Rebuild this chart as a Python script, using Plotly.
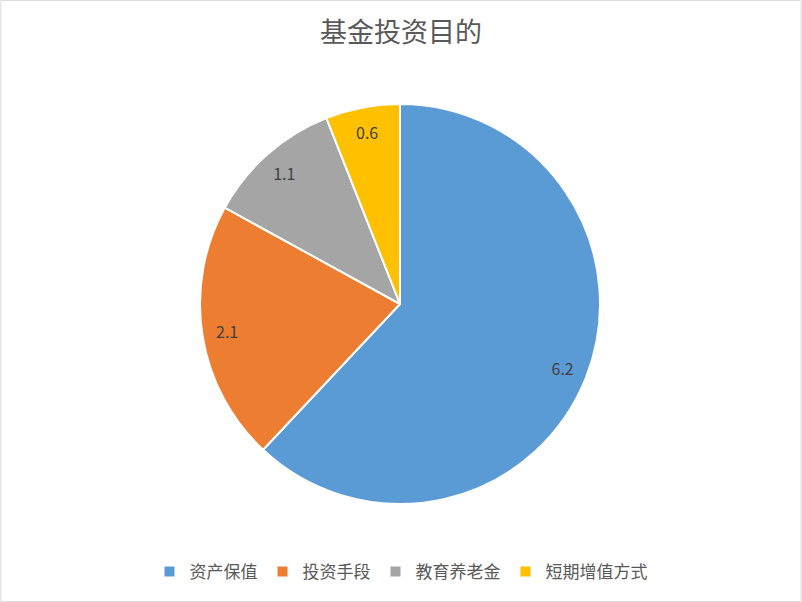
import plotly.graph_objects as go

categories = ["资产保值", "投资手段", "教育养老金", "短期增值方式"]
values = [6.2, 2.1, 1.1, 0.6]
colors = ["#5B9BD5", "#ED7D31", "#A5A5A5", "#FFC000"]

W, H = 802, 602
dom = dict(x=[200 / W, 600 / W], y=[1 - 504 / H, 1 - 104 / H])

fig = go.Figure()
fig.add_trace(go.Pie(
    labels=categories,
    values=values,
    sort=False,
    direction="clockwise",
    rotation=0,
    marker=dict(colors=colors, line=dict(color="white", width=2)),
    textinfo="none",
    domain=dom,
    hoverinfo="label+value",
))
# label layer: transparent ring so the values sit near the rim
fig.add_trace(go.Pie(
    labels=categories,
    values=values,
    sort=False,
    direction="clockwise",
    rotation=0,
    hole=0.75,
    marker=dict(colors=["rgba(0,0,0,0)"] * len(values), line=dict(width=0)),
    texttemplate="%{value}",
    textposition="inside",
    insidetextorientation="horizontal",
    textfont=dict(color="#404040", size=16, family="Noto Sans CJK SC"),
    domain=dom,
    showlegend=False,
    hoverinfo="skip",
))

fig.update_layout(
    width=W, height=H,
    margin=dict(l=0, r=0, t=0, b=0),
    paper_bgcolor="white",
    font=dict(family="Noto Sans CJK SC", color="#595959"),
    uniformtext=dict(minsize=16, mode="show"),
    title=dict(text="基金投资目的", x=0.5, xanchor="center", y=1 - 33 / H, yanchor="middle",
               font=dict(size=27, color="#595959")),
    showlegend=True,
    legend=dict(orientation="h", x=0.5, xanchor="center", y=1 - 572 / H, yanchor="middle",
                font=dict(size=17, color="#595959"), itemwidth=30, traceorder="normal"),
    shapes=[dict(type="rect", xref="paper", yref="paper", x0=0.001, y0=0.001, x1=0.999, y1=0.999,
                 line=dict(color="#D9D9D9", width=1))],
)

fig.write_html("out.html", config={"displayModeBar": False},
               post_script="document.body.style.margin='0';")
